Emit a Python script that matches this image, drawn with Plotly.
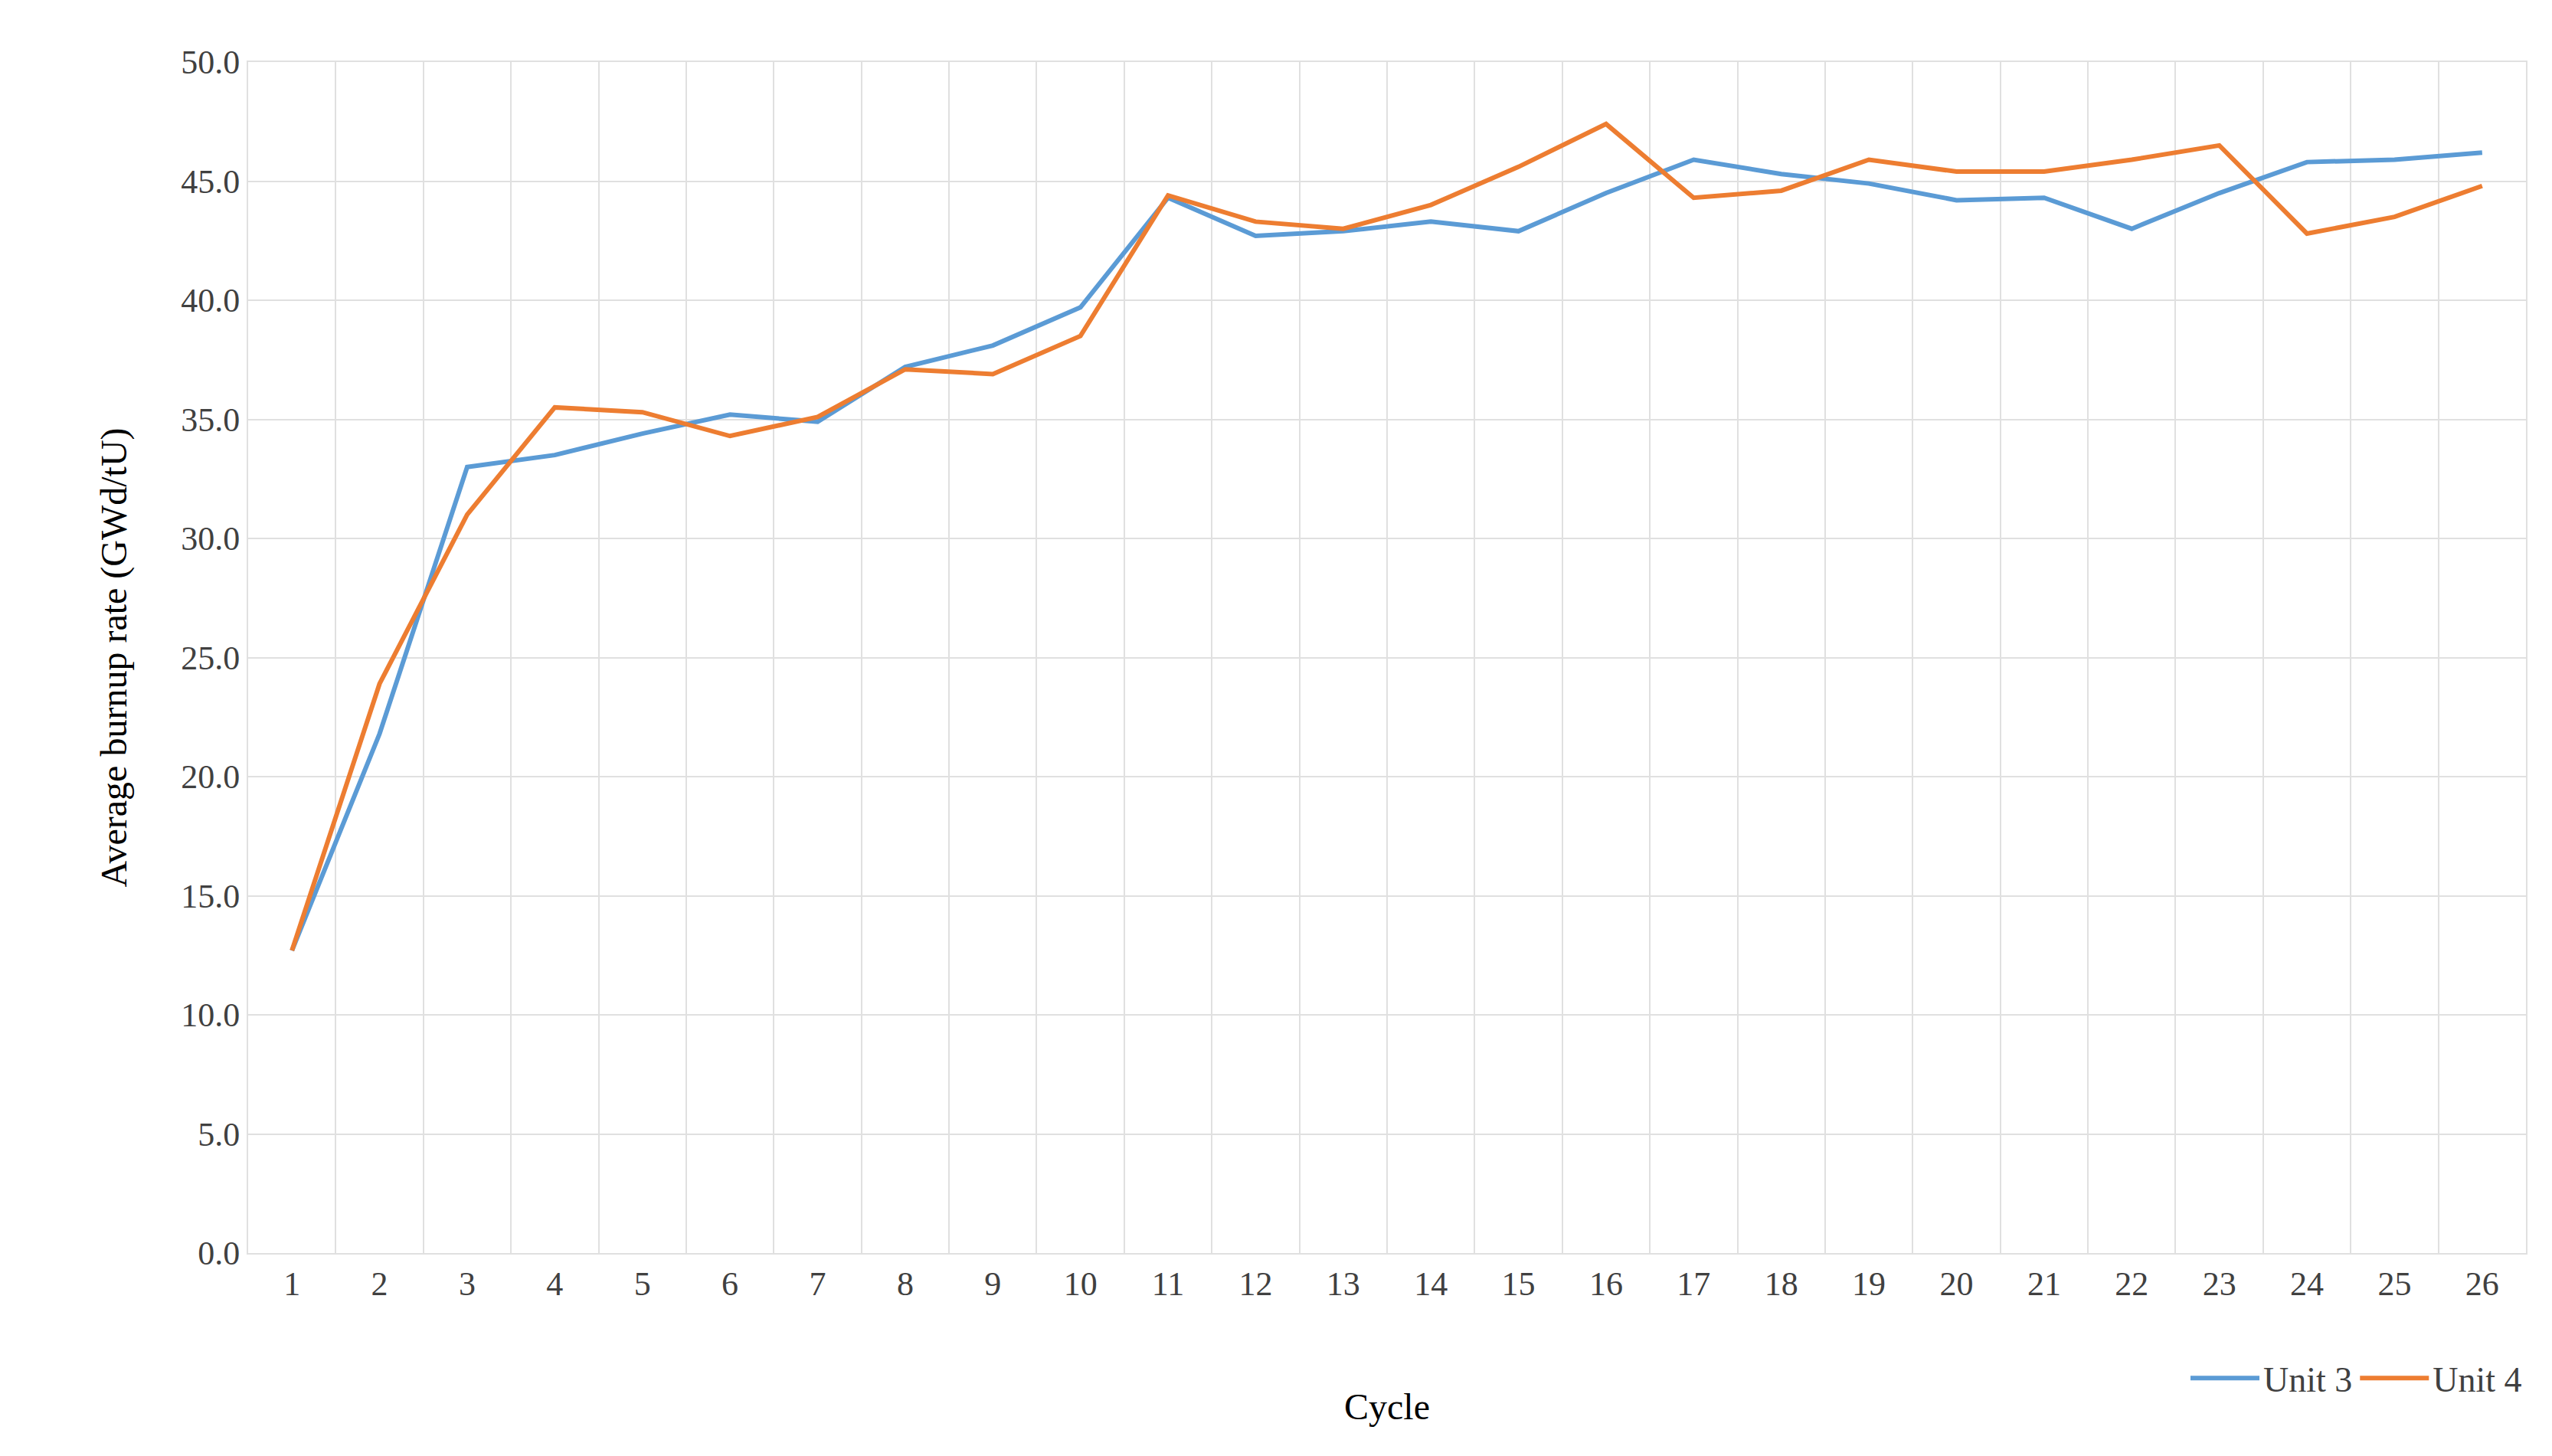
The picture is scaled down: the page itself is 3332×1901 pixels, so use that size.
import plotly.graph_objects as go

cycles = list(range(1, 27))
unit3 = [12.7, 21.8, 33.0, 33.5, 34.4, 35.2, 34.9, 37.2, 38.1, 39.7, 44.3, 42.7, 42.9,
         43.3, 42.9, 44.5, 45.9, 45.3, 44.9, 44.2, 44.3, 43.0, 44.5, 45.8, 45.9, 46.2]
unit4 = [12.7, 23.9, 31.0, 35.5, 35.3, 34.3, 35.1, 37.1, 36.9, 38.5, 44.4, 43.3, 43.0,
         44.0, 45.6, 47.4, 44.3, 44.6, 45.9, 45.4, 45.4, 45.9, 46.5, 42.8, 43.5, 44.8]
yticks = [0, 5, 10, 15, 20, 25, 30, 35, 40, 45, 50]

fig = go.Figure()
fig.add_trace(go.Scatter(x=cycles, y=unit3, mode="lines", name="Unit 3",
                         line=dict(color="#5B9BD5", width=6)))
fig.add_trace(go.Scatter(x=cycles, y=unit4, mode="lines", name="Unit 4",
                         line=dict(color="#ED7D31", width=6)))
font = dict(family="Liberation Serif", size=44, color="#404040")
fig.update_layout(
    width=3332, height=1901, paper_bgcolor="white", plot_bgcolor="white",
    margin=dict(l=316, r=42, t=73, b=273),
    font=font,
    legend=dict(orientation="h", x=1.0, xanchor="right", y=-0.105, yanchor="middle",
                itemwidth=90,
                font=dict(family="Liberation Serif", size=46, color="#404040")),
    xaxis=dict(range=[0.5, 26.5], tickvals=cycles, ticktext=[str(c) for c in cycles],
               showgrid=False, zeroline=False, showline=True, mirror=True,
               linecolor="#E0E0E0", linewidth=2, ticks="",
               minor=dict(tick0=0.5, dtick=1, showgrid=True, gridcolor="#E0E0E0", gridwidth=2),
               title=dict(text="Cycle", font=dict(family="Liberation Serif", size=48, color="black"),
                          standoff=120)),
    yaxis=dict(range=[0, 50], tickvals=yticks, ticktext=[f"{v:.1f}" for v in yticks],
               showgrid=True, gridcolor="#E0E0E0", gridwidth=2, zeroline=False,
               showline=True, mirror=True, linecolor="#E0E0E0", linewidth=2,
               title=dict(text="Average burnup rate (GWd/tU)",
                          font=dict(family="Liberation Serif", size=48, color="black"), standoff=55)),
)
fig.write_html("out.html")
